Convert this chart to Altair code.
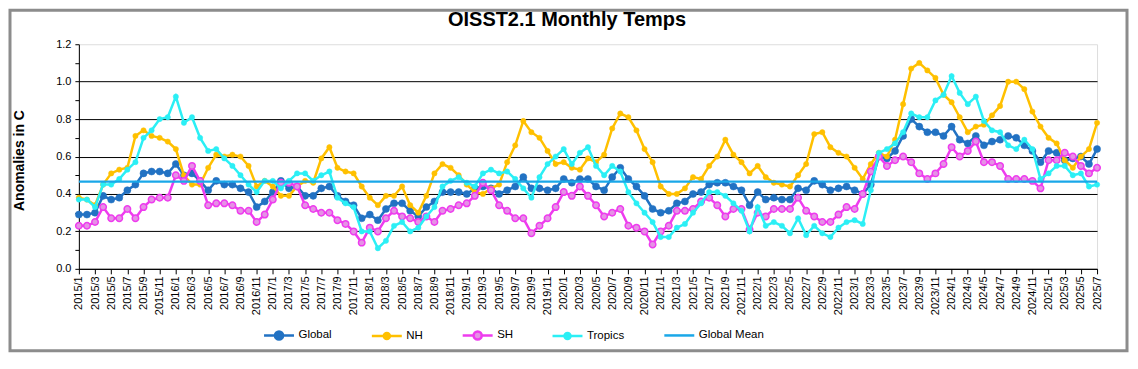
import altair as alt
import pandas as pd

# ---------------- data ----------------
months = [f"{y}/{m}" for y in range(2015, 2026) for m in range(1, 13)][:127]

global_vals = [
    0.29, 0.29, 0.30, 0.39, 0.37, 0.38, 0.42, 0.45, 0.51, 0.52, 0.52, 0.51,
    0.56, 0.50, 0.51, 0.47, 0.42, 0.47, 0.45, 0.45, 0.43, 0.41, 0.33, 0.36,
    0.41, 0.47, 0.43, 0.44, 0.39, 0.39, 0.43, 0.44, 0.39, 0.36, 0.34, 0.27,
    0.29, 0.26, 0.32, 0.35, 0.35, 0.31, 0.28, 0.33, 0.36, 0.41, 0.41, 0.41,
    0.40, 0.43, 0.44, 0.43, 0.40, 0.42, 0.44, 0.49, 0.43, 0.43, 0.42, 0.43,
    0.48, 0.46, 0.48, 0.48, 0.44, 0.42, 0.49, 0.54, 0.48, 0.44, 0.39, 0.32,
    0.30, 0.31, 0.35, 0.36, 0.40, 0.41, 0.45, 0.46, 0.46, 0.44, 0.42, 0.34,
    0.41, 0.37, 0.38, 0.37, 0.37, 0.43, 0.42, 0.47, 0.45, 0.42, 0.43, 0.44,
    0.42, 0.40, 0.45, 0.60, 0.59, 0.63, 0.71, 0.80, 0.76, 0.73, 0.73, 0.71,
    0.76, 0.69, 0.67, 0.71, 0.66, 0.68, 0.69, 0.71, 0.70, 0.66, 0.63, 0.57,
    0.63, 0.62, 0.58, 0.59, 0.60, 0.56, 0.64,
]
nh_vals = [
    0.38, 0.37, 0.34, 0.45, 0.51, 0.53, 0.54, 0.71, 0.74, 0.71, 0.70, 0.68,
    0.64, 0.50, 0.45, 0.45, 0.54, 0.61, 0.60, 0.61, 0.60, 0.55, 0.44, 0.47,
    0.44, 0.39, 0.39, 0.44, 0.47, 0.46, 0.59, 0.65, 0.54, 0.52, 0.51, 0.44,
    0.38, 0.34, 0.39, 0.39, 0.44, 0.34, 0.30, 0.39, 0.51, 0.56, 0.54, 0.50,
    0.45, 0.41, 0.40, 0.43, 0.45, 0.57, 0.66, 0.79, 0.73, 0.70, 0.63, 0.56,
    0.57, 0.54, 0.53, 0.59, 0.57, 0.61, 0.75, 0.83, 0.81, 0.74, 0.64, 0.57,
    0.44, 0.40, 0.40, 0.43, 0.49, 0.48, 0.55, 0.60, 0.69, 0.61, 0.57, 0.51,
    0.55, 0.49, 0.46, 0.45, 0.44, 0.50, 0.56, 0.72, 0.73, 0.65, 0.62, 0.60,
    0.54, 0.48, 0.56, 0.62, 0.60, 0.69, 0.88, 1.07, 1.10, 1.06, 1.02, 0.93,
    0.89, 0.81, 0.73, 0.76, 0.77, 0.82, 0.87, 1.00, 1.00, 0.96, 0.84, 0.76,
    0.70, 0.67, 0.58, 0.54, 0.60, 0.64, 0.78,
]
sh_vals = [
    0.23, 0.23, 0.25, 0.33, 0.27, 0.27, 0.32, 0.27, 0.33, 0.37, 0.38, 0.38,
    0.50, 0.47, 0.55, 0.47, 0.34, 0.35, 0.35, 0.34, 0.31, 0.31, 0.25, 0.29,
    0.37, 0.46, 0.46, 0.44, 0.34, 0.32, 0.30, 0.30, 0.26, 0.24, 0.20, 0.14,
    0.22, 0.20, 0.27, 0.31, 0.28, 0.27, 0.25, 0.28, 0.25, 0.31, 0.32, 0.34,
    0.35, 0.39, 0.46, 0.42, 0.34, 0.31, 0.27, 0.27, 0.19, 0.23, 0.27, 0.33,
    0.41, 0.39, 0.44, 0.39, 0.34, 0.28, 0.30, 0.32, 0.23, 0.22, 0.20, 0.13,
    0.20, 0.23, 0.31, 0.31, 0.32, 0.36, 0.38, 0.34, 0.28, 0.32, 0.32, 0.21,
    0.30, 0.28, 0.32, 0.32, 0.32, 0.38, 0.31, 0.28, 0.25, 0.25, 0.29, 0.33,
    0.32, 0.40, 0.52, 0.60, 0.55, 0.58, 0.60, 0.57, 0.51, 0.48, 0.51, 0.56,
    0.65, 0.60, 0.63, 0.68, 0.57, 0.57, 0.55, 0.48, 0.48, 0.48, 0.47, 0.43,
    0.58, 0.58, 0.62, 0.60, 0.55, 0.51, 0.54,
]
tropics_vals = [
    0.37, 0.37, 0.33, 0.45, 0.45, 0.48, 0.53, 0.57, 0.70, 0.74, 0.80, 0.81,
    0.92, 0.78, 0.81, 0.70, 0.63, 0.64, 0.59, 0.55, 0.50, 0.45, 0.41, 0.47,
    0.47, 0.43, 0.47, 0.51, 0.51, 0.47, 0.50, 0.52, 0.38, 0.35, 0.33, 0.20,
    0.20, 0.11, 0.15, 0.23, 0.25, 0.20, 0.22, 0.28, 0.33, 0.44, 0.47, 0.49,
    0.46, 0.44, 0.51, 0.53, 0.51, 0.52, 0.48, 0.43, 0.38, 0.49, 0.56, 0.60,
    0.64, 0.56, 0.62, 0.65, 0.55, 0.50, 0.55, 0.52, 0.41, 0.35, 0.30, 0.25,
    0.17, 0.17, 0.22, 0.24, 0.30, 0.35, 0.41, 0.41, 0.39, 0.35, 0.31, 0.20,
    0.33, 0.23, 0.25, 0.23, 0.19, 0.27, 0.18, 0.23, 0.19, 0.17, 0.22, 0.25,
    0.26, 0.24, 0.42, 0.62, 0.64, 0.67, 0.73, 0.83, 0.81, 0.81, 0.90, 0.93,
    1.03, 0.94, 0.88, 0.92, 0.79, 0.74, 0.73, 0.66, 0.64, 0.69, 0.64, 0.48,
    0.51, 0.55, 0.55, 0.50, 0.51, 0.44, 0.45,
]
global_mean = 0.466

series_names = ["Global", "NH", "SH", "Tropics", "Global Mean"]
stroke_colors = ["#2272C3", "#FFC000", "#EE3CEE", "#2BEFF5", "#1AA7E8"]
fill_colors = ["#2272C3", "#FFC000", "#E592E5", "#2BEFF5", "transparent"]
legend_shapes = [
    "M-1,0L-0.27,0M0.27,0L1,0M0.27,0A0.27,0.27,0,1,1,-0.27,0A0.27,0.27,0,1,1,0.27,0Z",
    "M-1,0L-0.2,0M0.2,0L1,0M0.2,0A0.2,0.2,0,1,1,-0.2,0A0.2,0.2,0,1,1,0.2,0Z",
    "M-1,0L-0.27,0M0.27,0L1,0M0.27,0A0.27,0.27,0,1,1,-0.27,0A0.27,0.27,0,1,1,0.27,0Z",
    "M-1,0L-0.2,0M0.2,0L1,0M0.2,0A0.2,0.2,0,1,1,-0.2,0A0.2,0.2,0,1,1,0.2,0Z",
    "M-1,0L1,0M0,-0.27L0,-0.27M0,0.27L0,0.27",
]

series_data = {"Global": global_vals, "NH": nh_vals, "SH": sh_vals, "Tropics": tropics_vals}
rows = []
for name, vals in series_data.items():
    for m, v in zip(months, vals):
        rows.append({"Month": m, "Series": name, "value": v})
df = pd.DataFrame(rows)
mean_df = pd.DataFrame({"Series": ["Global Mean"], "value": [global_mean]})

FONT = "Liberation Sans"

stroke_scale = alt.Scale(domain=series_names, range=stroke_colors)
fill_scale = alt.Scale(domain=series_names, range=fill_colors)
shape_scale = alt.Scale(domain=series_names, range=legend_shapes)

leg = alt.Legend(
    title=None, orient="none", legendX=184, legendY=275, direction="horizontal",
    symbolSize=900, symbolStrokeWidth=2.5, labelFont=FONT, labelFontSize=11.5,
    labelColor="black", columnPadding=34, labelOffset=3, padding=0,
    labelBaseline="middle",
)

x_enc = alt.X(
    "Month:N",
    scale=alt.Scale(type="point", padding=0, domain=months),
    axis=alt.Axis(
        values=months[::2], labelAngle=-90, title=None, grid=False,
        labelFont=FONT, labelFontSize=11, labelColor="black", labelPadding=2,
        tickSize=5, tickColor="black", domainColor="black", labelOverlap=False,
    ),
)
y_enc = alt.Y(
    "value:Q",
    scale=alt.Scale(domain=[0, 1.2], nice=False),
    axis=alt.Axis(
        values=[round(0.1 * k, 1) for k in range(13)],
        tickCount=30,
        format=".1f",
        labelExpr="round(datum.value*10) % 2 == 0 ? datum.label : ''",
        labelOverlap=False,
        gridColor={"condition": {"test": "round(datum.value*10) % 2 == 0 && datum.value < 1.15",
                                 "value": "black"}, "value": "transparent"},
        gridWidth=1,
        title="Anomalies in C", titleFont=FONT, titleFontSize=14, titleFontWeight="bold",
        titleColor="black", titleX=-59, titleY=116, titleAngle=-90,
        titleAlign="center", titleBaseline="middle",
        labelFont=FONT, labelFontSize=11, labelColor="black", labelPadding=4,
        tickSize=4, tickColor="black", domainColor="black",
    ),
)

point_sizes = {"Global": 50, "NH": 28, "SH": 42, "Tropics": 28}

layers = []
frame = alt.Chart(pd.DataFrame({"f": [0]})).mark_rect(
    fillOpacity=0, stroke="#8C8C8C", strokeWidth=3
).encode(x=alt.value(-69), x2=alt.value(1050), y=alt.value(-34), y2=alt.value(307))
layers.append(frame)

base = alt.Chart(df)
for name in ["Global", "NH", "SH", "Tropics"]:
    sub = base.transform_filter(alt.datum.Series == name)
    layers.append(
        sub.mark_line(strokeWidth=2.5).encode(
            x=x_enc, y=y_enc,
            stroke=alt.Stroke("Series:N", scale=stroke_scale, legend=leg),
        )
    )
    layers.append(
        sub.mark_point(filled=True, size=point_sizes[name], opacity=1,
                       strokeWidth=1.5 if name == "SH" else 0.5).encode(
            x=x_enc, y=y_enc,
            fill=alt.Fill("Series:N", scale=fill_scale, legend=leg),
            stroke=alt.Stroke("Series:N", scale=stroke_scale, legend=leg),
        )
    )

layers.append(
    alt.Chart(mean_df).mark_rule(strokeWidth=2.5).encode(
        y=alt.Y("value:Q"),
        stroke=alt.Stroke("Series:N", scale=stroke_scale, legend=leg),
    )
)

legend_layer = alt.Chart(pd.DataFrame({"Series": series_names})).mark_point(
    filled=True, opacity=1
).encode(
    stroke=alt.Stroke("Series:N", scale=stroke_scale, legend=leg),
    fill=alt.Fill("Series:N", scale=fill_scale, legend=leg),
    shape=alt.Shape("Series:N", scale=shape_scale, legend=leg),
).transform_filter("false")
layers.append(legend_layer)

chart = alt.layer(*layers).properties(
    width=1020,
    height=225,
    padding={"left": 71, "top": 36, "right": 33, "bottom": 84},
    autosize=alt.AutoSizeParams(type="none"),
    title=alt.TitleParams(
        "OISST2.1 Monthly Temps", font=FONT, fontSize=20, fontWeight="bold",
        color="black", anchor="middle", dx=-21, dy=21, offset=0,
    ),
).configure_view(
    fill="#C0C0C0", stroke="#7F7F7F", strokeWidth=1
).configure(font=FONT, background="white")

chart.save("out.html", embed_options={"renderer": "svg", "actions": False})
